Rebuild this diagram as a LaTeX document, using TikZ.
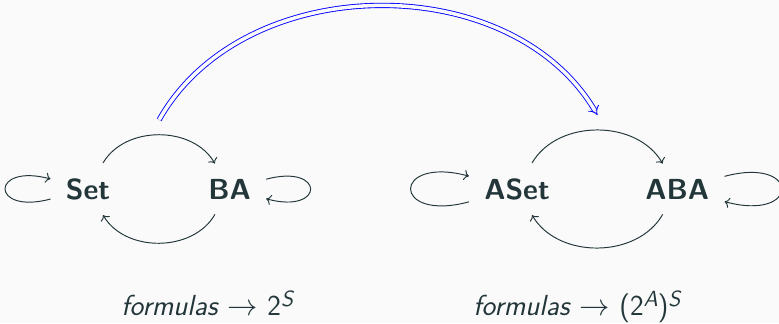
\documentclass[tikz,border=0pt]{standalone}
\usetikzlibrary{positioning, arrows.meta}
\definecolor{inkcol}{RGB}{35, 55, 59}
\definecolor{bgcol}{RGB}{250, 250, 250}
\newcommand{\upmark}[1]{\raisebox{5pt}{\fontsize{12.5pt}{13pt}\selectfont\textit{#1}}}
\tikzset{
  obj/.style={inner sep=0.3cm, text=inkcol,
              font=\fontsize{16.5pt}{19pt}\selectfont\sffamily\bfseries},
  arc/.style={->, draw=inkcol, line width=0.55pt},
  lift/.style={draw=blue, double=bgcol, double distance=2pt, line width=0.5pt,
               -{Implies}},
  formula/.style={anchor=base west, inner sep=0pt, text=inkcol,
                  font=\fontsize{16.5pt}{19pt}\selectfont\sffamily},
}

\begin{document}
\begin{tikzpicture}
  \fill[bgcol] (0,0) rectangle (15.58,6.46);
  \useasboundingbox (0,0) rectangle (15.58,6.46);

  \node[obj] (set) at (1.76,2.68) {Set};
  \node[obj, right=1.35cm of set] (ba) {BA};
  \node[obj] (aset) at (10.34,2.68) {ASet};
  \node[obj, right=1.3cm of aset] (aba) {ABA};

  \draw[arc] (set) to[bend left=60] coordinate[midway, yshift=0.3cm] (m1) (ba);
  \draw[arc] (ba) to[bend left=60] (set);
  \draw[arc] (set) to[loop left] (set);
  \draw[arc] (ba) to[loop right] (ba);

  \draw[arc] (aset) to[bend left=60] coordinate[midway, yshift=0.3cm] (m2) (aba);
  \draw[arc] (aba) to[bend left=60] (aset);
  \draw[arc] (aset) to[loop left] (aset);
  \draw[arc] (aba) to[loop right] (aba);

  \draw[lift] (m1) to[bend left=60] (m2);

  \node[formula] (fset) at (2.42,0.16)
    {\textit{formulas} $\rightarrow$ 2\upmark{S}};
  \node[formula] (faset) at (9.46,0.16)
    {\textit{formulas} $\rightarrow$ (2\upmark{A})\upmark{S}};
\end{tikzpicture}
\end{document}
